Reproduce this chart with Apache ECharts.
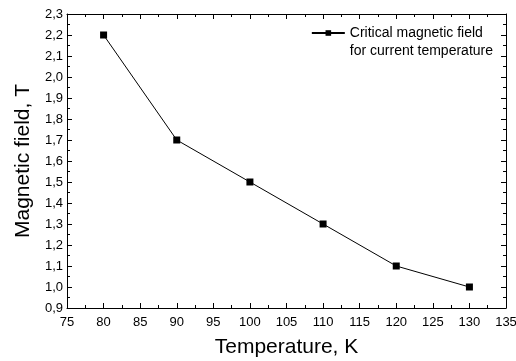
<!DOCTYPE html>
<html>
<head>
<meta charset="utf-8">
<script src="https://cdn.jsdelivr.net/npm/echarts@6/dist/echarts.min.js"></script>
<style>
  html, body { margin: 0; padding: 0; background: #fff; }
  #chart { width: 516px; height: 361px; }
</style>
</head>
<body>
<div id="chart"></div>
<script>
const temperatures = [80, 90, 100, 110, 120, 130];
const fieldValues = [2.2, 1.7, 1.5, 1.3, 1.1, 1.0];
const seriesName = "Critical magnetic field\nfor current temperature";

const font = "Liberation Sans, Arial, sans-serif";
const comma = (v) => v.toFixed(1).replace(".", ",");

const tickIn = { inside: true, length: 5, lineStyle: { color: "#000" } };
const minorIn = { show: true, splitNumber: 2, length: 3, lineStyle: { color: "#000" } };
const axisLn = { show: true, onZero: false, lineStyle: { color: "#000", width: 1 } };

const chart = echarts.init(document.getElementById("chart"));
chart.setOption({
  animation: false,
  grid: { left: 67, right: 10, top: 14, bottom: 53, outerBoundsMode: "none", containLabel: false },
  legend: {
    right: 18,
    top: 1,
    itemWidth: 33,
    itemHeight: 7,
    // blank first line so the icon sits beside the first text line
    formatter: (name) => " \n" + name,
    textStyle: { fontFamily: font, fontSize: 14, color: "#000", lineHeight: 18 },
    data: [seriesName]
  },
  xAxis: [
    {
      type: "value",
      min: 75, max: 135, interval: 5,
      name: "Temperature, K",
      nameLocation: "middle",
      nameGap: 29,
      nameTextStyle: { fontFamily: font, fontSize: 21, color: "#000" },
      axisLine: axisLn,
      axisTick: tickIn,
      minorTick: minorIn,
      splitLine: { show: false },
      axisLabel: { fontFamily: font, fontSize: 13, color: "#000", margin: 8 }
    },
    {
      type: "value", position: "top",
      min: 75, max: 135, interval: 5,
      axisLine: axisLn,
      axisTick: tickIn,
      minorTick: minorIn,
      splitLine: { show: false },
      axisLabel: { show: false }
    }
  ],
  yAxis: [
    {
      type: "value",
      min: 0.9, max: 2.3, interval: 0.1,
      name: "Magnetic field, T",
      nameLocation: "middle",
      nameGap: 33,
      nameTextStyle: { fontFamily: font, fontSize: 21, color: "#000" },
      axisLine: axisLn,
      axisTick: tickIn,
      minorTick: minorIn,
      splitLine: { show: false },
      axisLabel: { fontFamily: font, fontSize: 13, color: "#000", margin: 4, formatter: comma }
    },
    {
      type: "value", position: "right",
      min: 0.9, max: 2.3, interval: 0.1,
      axisLine: axisLn,
      axisTick: tickIn,
      minorTick: minorIn,
      splitLine: { show: false },
      axisLabel: { show: false }
    }
  ],
  series: [
    {
      name: seriesName,
      type: "line",
      data: temperatures.map((t, i) => [t, fieldValues[i]]),
      symbol: "rect",
      symbolSize: 7,
      itemStyle: { color: "#000" },
      lineStyle: { color: "#000", width: 1 }
    }
  ]
});
</script>
</body>
</html>
